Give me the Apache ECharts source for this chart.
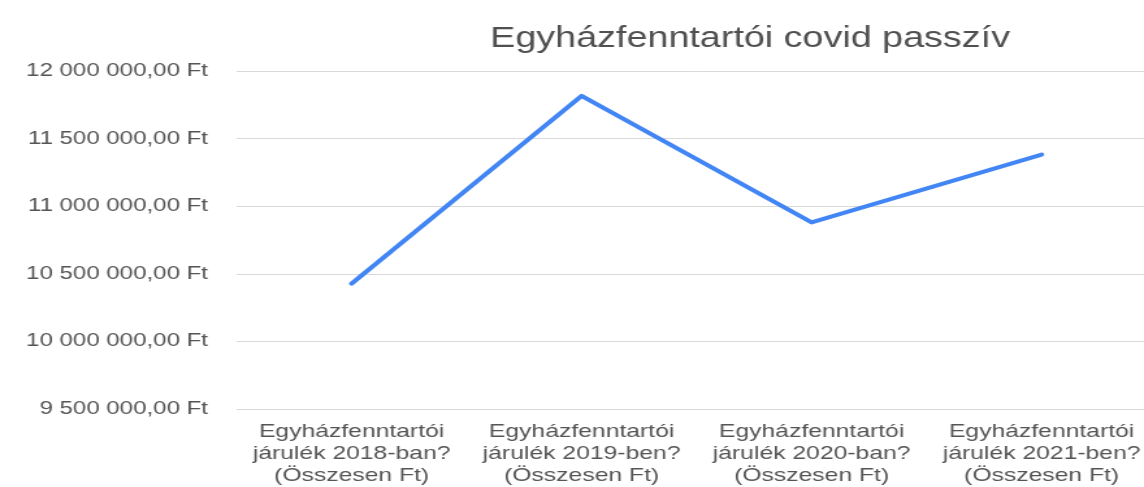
<!DOCTYPE html>
<html>
<head>
<meta charset="utf-8">
<script src="https://cdn.jsdelivr.net/npm/echarts@6/dist/echarts.min.js"></script>
<style>
html,body{margin:0;padding:0;background:#fff;overflow:hidden;width:1144px;height:487px;}
#c{width:900px;height:487px;transform:scaleX(1.3);transform-origin:0 0;}
</style>
</head>
<body>
<div id="c"></div>
<script>
const titleText = 'Egyházfenntartói covid passzív';
const categories = [
  'Egyházfenntartói\njárulék 2018-ban?\n(Összesen Ft)',
  'Egyházfenntartói\njárulék 2019-ben?\n(Összesen Ft)',
  'Egyházfenntartói\njárulék 2020-ban?\n(Összesen Ft)',
  'Egyházfenntartói\njárulék 2021-ben?\n(Összesen Ft)'
];
const values = [10428000, 11816000, 10880000, 11382000];
const yMin = 9500000, yMax = 12000000, yStep = 500000;

function fmtFt(v){
  const s = Math.round(v).toString().replace(/\B(?=(\d{3})+(?!\d))/g, ' ');
  return s + ',00 Ft';
}

const chart = echarts.init(document.getElementById('c'), null, {renderer:'canvas'});
chart.setOption({
  animation:false,
  backgroundColor:'#ffffff',
  title:{
    text:titleText,
    left:577, top:24, textAlign:'center', padding:0,
    textStyle:{fontFamily:'Liberation Sans, Arial, sans-serif', fontSize:29, fontWeight:'normal', color:'#505050', lineHeight:29}
  },
  grid:{left:182, top:71, width:707.7, height:340, containLabel:false},
  xAxis:{
    type:'category', data:categories, boundaryGap:true,
    axisLine:{show:false}, axisTick:{show:false},
    axisLabel:{interval:0, margin:12, fontFamily:'Liberation Sans, Arial, sans-serif', fontSize:19, lineHeight:22, color:'#555555', align:'center'}
  },
  yAxis:{
    type:'value', min:yMin, max:yMax, interval:yStep,
    axisLine:{show:false}, axisTick:{show:false},
    splitLine:{lineStyle:{color:'#d9d9d9', width:1}},
    axisLabel:{margin:22, formatter:fmtFt, fontFamily:'Liberation Sans, Arial, sans-serif', fontSize:18.5, color:'#555555'}
  },
  series:[{
    type:'line', data:values, showSymbol:false, symbol:'none',
    lineStyle:{color:'#4285f4', width:4, cap:'round', join:'round'},
    itemStyle:{color:'#4285f4'}
  }]
});
</script>
</body>
</html>
